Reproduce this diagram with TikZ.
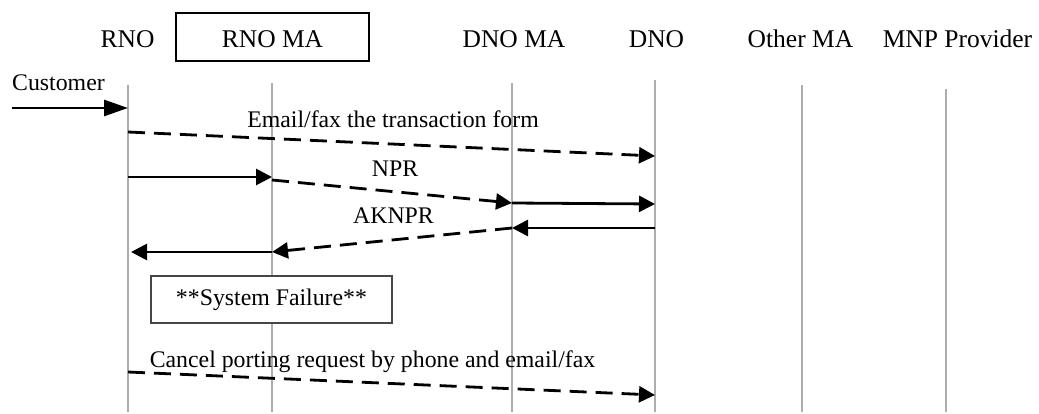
\documentclass[tikz,border=0pt]{standalone}
\usepackage{fontspec}
\setmainfont{Liberation Serif}
\usetikzlibrary{arrows.meta}

\begin{document}
\begin{tikzpicture}[x=1pt,y=-1pt,
  lifeline/.style={draw=black!32, line width=2.2pt},
  head/.style={font=\fontsize{25.5}{30}\selectfont, anchor=base, inner sep=0pt},
  lbl/.style={font=\fontsize{23.8}{28}\selectfont, anchor=base, inner sep=0pt},
  msg/.style={line width=2.8pt, -{Triangle[length=16pt,width=16pt]}},
  async/.style={msg, dash pattern=on 17pt off 9pt},
  notebox/.style={draw=black!72, line width=1.6pt, fill=white,
    minimum width=241pt, minimum height=47pt, inner sep=0pt,
    font=\fontsize{23.8}{28}\selectfont},
]
\useasboundingbox (0,0) rectangle (1039,414);

% participants
\node[head] (rno)   at (127.5,47.5) {RNO};
\node[head, draw, line width=1.8pt, minimum width=193pt, minimum height=48pt,
      text height=21pt, text depth=0pt]
      (rnoma) at (272.5,47.5) {RNO MA};
\node[head] (dnoma) at (514,47.5)   {DNO MA};
\node[head] (dno)   at (656.5,47.5) {DNO};
\node[head] (other) at (800.5,47.5) {Other MA};
\node[head] (mnp)   at (957.5,47.5) {MNP Provider};

% lifelines
\coordinate (rnoT)   at (128,85);  \coordinate (rnoB)   at (128,412);
\coordinate (rnomaT) at (272,83);  \coordinate (rnomaB) at (272,412);
\coordinate (dnomaT) at (512,83);  \coordinate (dnomaB) at (512,412);
\coordinate (dnoT)   at (655,80);  \coordinate (dnoB)   at (655,412);
\coordinate (otherT) at (802,85);  \coordinate (otherB) at (802,412);
\coordinate (mnpT)   at (946,89);  \coordinate (mnpB)   at (946,412);
\foreach \p in {rno,rnoma,dnoma,dno,other,mnp}
  \draw[lifeline] (\p T) -- (\p B);

% customer request
\node[lbl, anchor=base west] (cust) at (12,91) {Customer};
\coordinate (custS) at (12,108);
\coordinate (custE) at (128,108);
\draw[msg, -{Triangle[length=24pt,width=16pt]}] (custS) -- (custE);

% transaction form
\coordinate (f1) at (128,132);
\coordinate (f2) at (655,156);
\draw[async] (f1) -- (f2);
\node[lbl] (formlbl) at (393,128) {Email/fax the transaction form};

% NPR
\coordinate (n1) at (128,177);
\coordinate (n2) at (272,177);
\coordinate (n3) at (272,180);
\coordinate (n4) at (512,203);
\coordinate (n5) at (655,204);
\draw[msg] (n1) -- (n2);
\draw[async] (n3) -- (n4);
\draw[msg] (n4) -- (n5);
\node[lbl] (nprlbl) at (395,177) {NPR};

% AKNPR
\coordinate (a1) at (655,228);
\coordinate (a2) at (512,228);
\coordinate (a3) at (272,252);
\coordinate (a4) at (131,252);
\draw[msg] (a1) -- (a2);
\draw[async] (a2) -- (a3);
\draw[msg] (a3) -- (a4);
\node[lbl] (aklbl) at (393.5,224) {AKNPR};

% failure note
\node[notebox] (fail) at (271.5,299.5) {**System Failure**};

% cancellation
\coordinate (c1) at (128,372);
\coordinate (c2) at (655,395);
\draw[async] (c1) -- (c2);
\node[lbl] (canlbl) at (372.5,367) {Cancel porting request by phone and email/fax};
\end{tikzpicture}
\end{document}
